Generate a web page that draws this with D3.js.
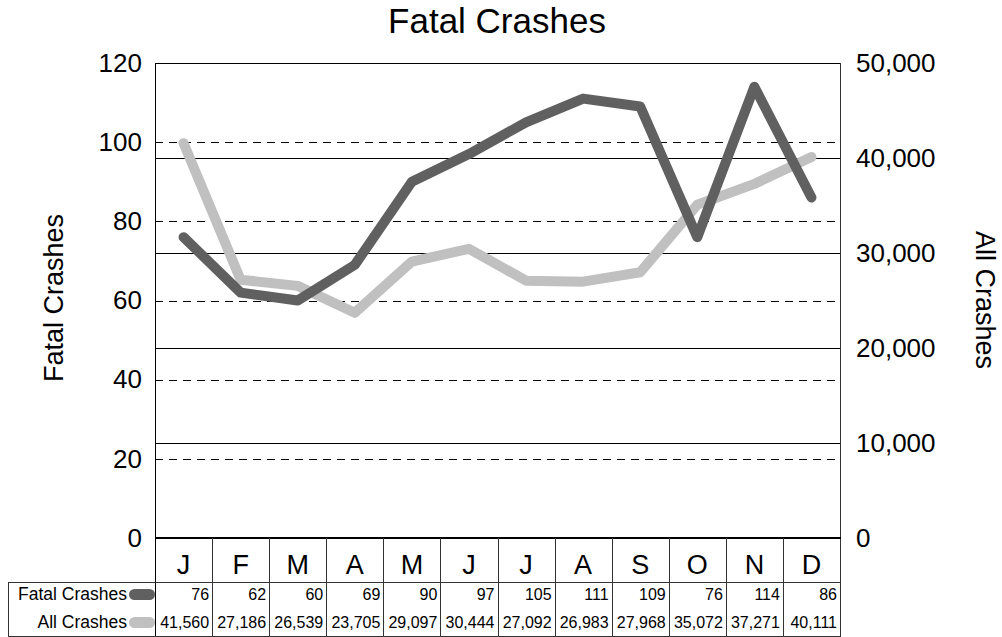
<!DOCTYPE html>
<html><head><meta charset="utf-8">
<script src="https://cdn.jsdelivr.net/npm/d3@7"></script>
<style>
html,body{margin:0;padding:0;background:#fff;}
text{font-family:"Liberation Sans",Arial,sans-serif;fill:#000;}
</style></head>
<body><svg id="chart" width="1002" height="637"></svg>
<script>
const months = ["J","F","M","A","M","J","J","A","S","O","N","D"];
const fatalCrashes = [76,62,60,69,90,97,105,111,109,76,114,86];
const allCrashes = [41560,27186,26539,23705,29097,30444,27092,26983,27968,35072,37271,40111];
const leftTicks = [0,20,40,60,80,100,120];
const rightTicks = [0,10000,20000,30000,40000,50000];
const seriesNames = ["Fatal Crashes","All Crashes"];
const seriesColors = ["#606060","#c0c0c0"];

const svg = d3.select("#chart");
const L = 155, R = 840, T = 63, B = 538;
const tableRow1 = 582, tableBottom = 636;

const x = d3.scaleBand().domain(d3.range(months.length)).range([L, R]);
const yL = d3.scaleLinear().domain([0,120]).range([B, T]);
const yR = d3.scaleLinear().domain([0,50000]).range([B, T]);
const cx = i => x(i) + x.bandwidth()/2;

// gridlines: dashed (left axis)
svg.append("g").selectAll("line").data(leftTicks.filter(d => d > 0 && d < 120)).join("line")
  .attr("x1", L).attr("x2", R).attr("y1", d => Math.round(yL(d))+0.5).attr("y2", d => Math.round(yL(d))+0.5)
  .attr("stroke", "#000").attr("stroke-width", 1).attr("stroke-dasharray", "8,6");
// gridlines: solid (right axis)
svg.append("g").selectAll("line").data(rightTicks.filter(d => d > 0 && d < 50000)).join("line")
  .attr("x1", L).attr("x2", R).attr("y1", d => Math.round(yR(d))+0.5).attr("y2", d => Math.round(yR(d))+0.5)
  .attr("stroke", "#000").attr("stroke-width", 1);

// plot border
svg.append("line").attr("x1", L).attr("x2", R).attr("y1", T+0.5).attr("y2", T+0.5).attr("stroke", "#000");
svg.append("line").attr("x1", L+0.5).attr("x2", L+0.5).attr("y1", T).attr("y2", tableBottom).attr("stroke", "#000");
svg.append("line").attr("x1", R+0.5).attr("x2", R+0.5).attr("y1", T).attr("y2", tableBottom).attr("stroke", "#333");
svg.append("line").attr("x1", L).attr("x2", R+1).attr("y1", B).attr("y2", B).attr("stroke", "#000").attr("stroke-width", 2);

// axes labels
const leftAxis = d3.axisLeft(yL).tickValues(leftTicks).tickSize(0).tickPadding(13);
const gL = svg.append("g").attr("transform", `translate(${L},0)`).call(leftAxis);
gL.select(".domain").remove();
gL.selectAll("text").style("font-size", "26px").style("font-family", "Liberation Sans, Arial, sans-serif").attr("fill", "#000");

const rightAxis = d3.axisRight(yR).tickValues(rightTicks).tickSize(0).tickPadding(16).tickFormat(d3.format(","));
const gR = svg.append("g").attr("transform", `translate(${R},0)`).call(rightAxis);
gR.select(".domain").remove();
gR.selectAll("text").style("font-size", "26px").style("font-family", "Liberation Sans, Arial, sans-serif").attr("fill", "#000");

// lines
const lineL = d3.line().x((d,i) => cx(i)).y(d => yL(d));
const lineR = d3.line().x((d,i) => cx(i)).y(d => yR(d));
svg.append("path").datum(allCrashes).attr("d", lineR).attr("fill", "none")
  .attr("stroke", seriesColors[1]).attr("stroke-width", 10).attr("stroke-linejoin", "round").attr("stroke-linecap", "round");
svg.append("path").datum(fatalCrashes).attr("d", lineL).attr("fill", "none")
  .attr("stroke", seriesColors[0]).attr("stroke-width", 10).attr("stroke-linejoin", "round").attr("stroke-linecap", "round");

// title and axis titles
svg.append("text").attr("x", 497).attr("y", 33).attr("text-anchor", "middle").style("font-size", "35px").text("Fatal Crashes");
svg.append("text").attr("transform", "translate(63,298) rotate(-90)").attr("text-anchor", "middle").style("font-size", "27px").text("Fatal Crashes");
svg.append("text").attr("transform", "translate(976,300) rotate(90)").attr("text-anchor", "middle").style("font-size", "27px").text("All Crashes");

// data table
const tbl = svg.append("g");
tbl.selectAll("line.v").data(d3.range(1, months.length)).join("line")
  .attr("x1", i => Math.round(x(i))+0.5).attr("x2", i => Math.round(x(i))+0.5)
  .attr("y1", B).attr("y2", tableBottom).attr("stroke", "#333");
tbl.append("line").attr("x1", 8).attr("x2", R+1).attr("y1", tableRow1+0.5).attr("y2", tableRow1+0.5).attr("stroke", "#333");
tbl.append("line").attr("x1", 8).attr("x2", R+1).attr("y1", tableBottom+0.5).attr("y2", tableBottom+0.5).attr("stroke", "#333");
tbl.append("line").attr("x1", 8.5).attr("x2", 8.5).attr("y1", tableRow1).attr("y2", tableBottom).attr("stroke", "#333");

// month labels
tbl.selectAll("text.m").data(months).join("text")
  .attr("x", (d,i) => cx(i)).attr("y", 574).attr("text-anchor", "middle").style("font-size", "27px").text(d => d);

// values
const rowY = [600, 628];
const fmt = d3.format(",");
[fatalCrashes, allCrashes].forEach((arr, r) => {
  tbl.selectAll("text.r"+r).data(arr).join("text")
    .attr("x", (d,i) => x(i) + x.bandwidth() - 3).attr("y", rowY[r]).attr("text-anchor", "end")
    .style("font-size", "16px").text(d => fmt(d));
  tbl.append("text").attr("x", 127).attr("y", rowY[r]).attr("text-anchor", "end").style("font-size", "17.5px").text(seriesNames[r]);
  tbl.append("rect").attr("x", 129).attr("y", rowY[r]-11).attr("width", 26).attr("height", 11).attr("rx", 5.5)
    .attr("fill", seriesColors[r]);
});
</script></body></html>
